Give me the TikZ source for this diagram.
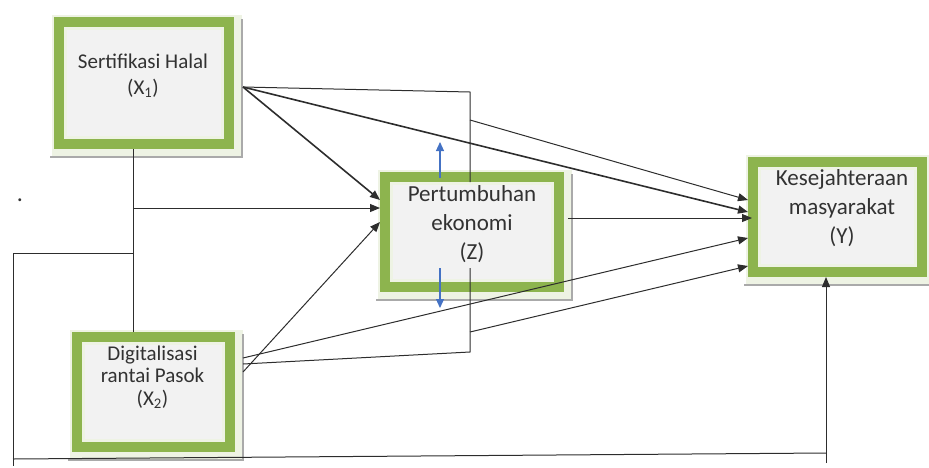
\documentclass[tikz,border=0pt]{standalone}
\usepackage{fontspec}
\setmainfont{Carlito}
\usetikzlibrary{arrows.meta,backgrounds}
\definecolor{gframe}{RGB}{141,180,78}
\definecolor{gpale}{RGB}{238,243,228}
\definecolor{boxfill}{RGB}{242,242,242}
\definecolor{shadowgray}{RGB}{170,170,170}
\definecolor{txt}{RGB}{50,50,50}
\definecolor{lblue}{RGB}{68,114,196}
\definecolor{ln}{RGB}{45,45,45}
\begin{document}
\begin{tikzpicture}[x=1pt,y=-1pt,
  frame/.style={draw=gframe,line width=10pt,fill=boxfill,inner sep=0pt,outer sep=5pt},
  band/.style={draw=gpale,line width=3pt},
  lbl/.style={text=txt,align=center,inner sep=0pt},
  conn/.style={draw=ln,line width=1pt},
  heavy/.style={line width=1.6pt},
  arr/.style={conn,-{Triangle[length=10pt,width=8pt]}},
  bluearr/.style={draw=lblue,line width=1.1pt,-{Triangle[length=9pt,width=8pt]}},
]
\useasboundingbox (0,0) rectangle (929,467);

% boxes
\node[frame,minimum width=170pt,minimum height=122pt] (x1) at (144,83) {};
\node[frame,minimum width=174pt,minimum height=110pt] (z) at (472,232) {};
\node[frame,minimum width=169pt,minimum height=110pt] (y) at (837.5,217) {};
\node[frame,minimum width=153pt,minimum height=110pt] (x2) at (153.5,392) {};

\foreach \n in {x1,z,y,x2}{
  \draw[band] ([xshift=11.5pt,yshift=-11.5pt]\n.north west) rectangle ([xshift=-11.5pt,yshift=11.5pt]\n.south east);
}
\begin{pgfonlayer}{background}
\foreach \n in {x1,z,y,x2}{
  \fill[gpale] ([xshift=-2pt,yshift=2pt]\n.north west) rectangle ([xshift=8pt,yshift=-8pt]\n.south east);
  \draw[shadowgray,line width=2.5pt] ([xshift=8pt,yshift=-2pt]\n.north east) -- ([xshift=8pt,yshift=-8pt]\n.south east) -- ([xshift=-4pt,yshift=-8pt]\n.south west);
}
\end{pgfonlayer}

% labels
\node[lbl,font=\fontsize{21}{26}\selectfont] (x1t) at (143,76) {Sertifikasi Halal\\(X\textsubscript{1})};
\node[lbl,font=\fontsize{23}{29}\selectfont] (zt) at (472,224) {Pertumbuhan\\ekonomi\\(Z)};
\node[lbl,font=\fontsize{23}{29}\selectfont] (yt) at (842,208) {Kesejahteraan\\masyarakat\\(Y)};
\node[lbl,font=\fontsize{21}{22.5}\selectfont] (x2t) at (152.5,377) {Digitalisasi\\rantai Pasok\\(X\textsubscript{2})};
\node[lbl,font=\fontsize{24}{26}\selectfont] (dot) at (20,200) {.};

% helper points
\coordinate (j1) at (133,208);
\coordinate (j2) at (133,253);
\coordinate (c1) at (13,253);
\coordinate (c2) at (13,459);
\coordinate (c2e) at (13,466);
\coordinate (c3) at (826,453);
\coordinate (m1) at (470,92);
\coordinate (m2) at (470,120);
\coordinate (m3) at (470,352);
\coordinate (m4) at (470,332);
\coordinate (x1f) at ([xshift=9pt,yshift=-4pt]x1.east);

% connectors
\draw[conn] (x1.south -| j1) -- (x2.north -| j1);
\draw[arr] (j1) -- (j1 -| z.west);
\draw[conn] (j2) -- (c1) -- (c2e);
\draw[conn] (c2) -- (c3);
\draw[arr] ([yshift=-10pt]c3) -- (c3 |- y.south);

\draw[conn] (x1f) -- (m1) -- ([yshift=-10pt]z.north -| m1);
\draw[arr] (m2) -- ([yshift=17pt]y.west);
\draw[arr,heavy] (x1f) -- ([yshift=5pt]y.west);
\draw[arr,heavy] (x1f) -- ([yshift=32pt]z.west);
\draw[arr] ([xshift=4pt,yshift=14pt]z.east) -- ([xshift=4pt,yshift=14pt]z.east -| y.west);

\draw[arr] ([xshift=8pt,yshift=20pt]x2.east) -- ([yshift=10pt]z.west);
\draw[arr] ([xshift=8pt,yshift=34pt]x2.east) -- ([yshift=-21pt]y.west);
\draw[conn] ([xshift=8pt,yshift=28pt]x2.east) -- (m3) -- ([yshift=24pt]z.south -| m3);
\draw[arr] (m4) -- ([yshift=-49pt]y.west);

\draw[bluearr] ([xshift=-32pt,yshift=-6pt]z.north) -- ([xshift=-32pt,yshift=30pt]z.north);
\draw[bluearr] ([xshift=-32pt,yshift=24pt]z.south) -- ([xshift=-32pt,yshift=-16pt]z.south);
\end{tikzpicture}
\end{document}
